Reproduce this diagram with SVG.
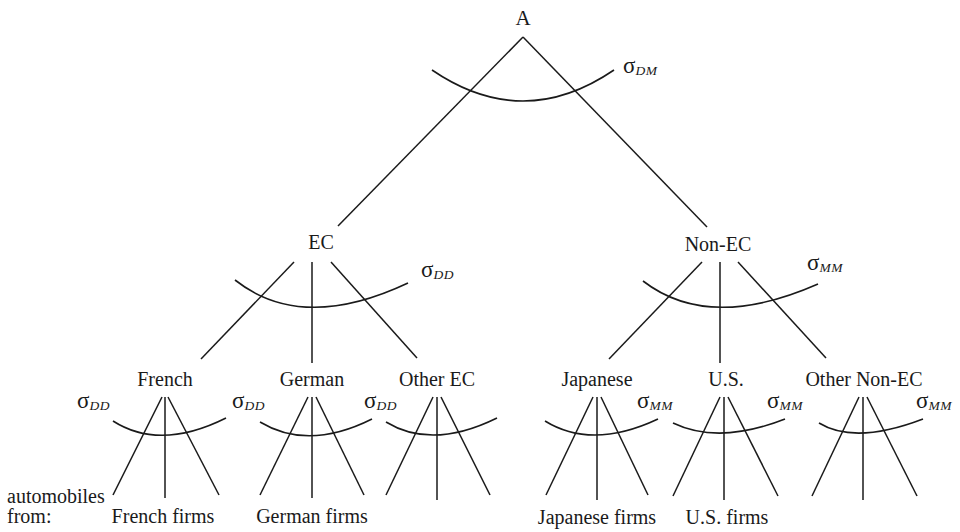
<svg xmlns="http://www.w3.org/2000/svg" width="960" height="532" viewBox="0 0 960 532">
<style>
.lbl{font-family:"Liberation Serif","Times New Roman",serif;font-size:20px;fill:#1a1a1a;text-anchor:middle}
.lft{font-family:"Liberation Serif","Times New Roman",serif;font-size:20px;fill:#1a1a1a}
.sig{font-family:"Liberation Serif","Times New Roman",serif;font-size:23px;fill:#1a1a1a}
.sub{font-size:13.5px;font-style:italic;letter-spacing:0.6px}
.ln{stroke:#1a1a1a;stroke-width:1.5;fill:none}
.arc{stroke:#1a1a1a;stroke-width:1.6;fill:none}
</style>
<rect width="960" height="532" fill="#ffffff"/>
<g id="connectors">
<line class="ln" x1="523" y1="37" x2="338" y2="226"/>
<line class="ln" x1="523" y1="37" x2="707" y2="227"/>
<line class="ln" x1="294" y1="262" x2="201" y2="359"/>
<line class="ln" x1="312" y1="262" x2="312" y2="363"/>
<line class="ln" x1="331" y1="262" x2="417" y2="358"/>
<line class="ln" x1="702" y1="262" x2="609" y2="359"/>
<line class="ln" x1="720" y1="262" x2="720" y2="363"/>
<line class="ln" x1="738" y1="262" x2="826" y2="358"/>
<line class="ln" x1="162" y1="397" x2="113" y2="495"/>
<line class="ln" x1="165" y1="397" x2="165" y2="498"/>
<line class="ln" x1="168" y1="397" x2="219" y2="495"/>
<line class="ln" x1="308" y1="397" x2="260" y2="495"/>
<line class="ln" x1="312" y1="397" x2="312" y2="498"/>
<line class="ln" x1="316" y1="397" x2="364" y2="495"/>
<line class="ln" x1="433" y1="397" x2="386" y2="495"/>
<line class="ln" x1="437" y1="397" x2="437" y2="500"/>
<line class="ln" x1="441" y1="397" x2="490" y2="495"/>
<line class="ln" x1="593" y1="397" x2="546" y2="495"/>
<line class="ln" x1="597" y1="397" x2="597" y2="500"/>
<line class="ln" x1="601" y1="397" x2="648" y2="495"/>
<line class="ln" x1="720" y1="397" x2="673" y2="496"/>
<line class="ln" x1="724" y1="397" x2="724" y2="500"/>
<line class="ln" x1="728" y1="397" x2="778" y2="496"/>
<line class="ln" x1="859" y1="397" x2="812" y2="496"/>
<line class="ln" x1="863" y1="397" x2="863" y2="500"/>
<line class="ln" x1="867" y1="397" x2="917" y2="496"/>
</g>
<g id="node-A">
<text class="lbl" x="523" y="25" style="font-size:21px">A</text>
<path class="arc" d="M432,70 Q523,132 614,70"/>
<text class="sig" x="623" y="73">σ<tspan class="sub" dy="2">DM</tspan></text>
</g>
<g id="node-EC">
<text class="lbl" x="321" y="249">EC</text>
<path class="arc" d="M235,280 Q302,333 408,283"/>
<text class="sig" x="421" y="277">σ<tspan class="sub" dy="2">DD</tspan></text>
</g>
<g id="node-NonEC">
<text class="lbl" x="718" y="251">Non-EC</text>
<path class="arc" d="M643,281 Q709,332 818,284"/>
<text class="sig" x="807" y="270">σ<tspan class="sub" dy="2">MM</tspan></text>
</g>
<g id="node-French">
<text class="lbl" x="165" y="386">French</text>
<path class="arc" d="M113,421 Q160,451 226,418"/>
<text class="sig" x="77" y="408">σ<tspan class="sub" dy="2">DD</tspan></text>
</g>
<g id="node-German">
<text class="lbl" x="312" y="386">German</text>
<path class="arc" d="M260,422 Q308,451 372,419"/>
<text class="sig" x="232" y="408">σ<tspan class="sub" dy="2">DD</tspan></text>
</g>
<g id="node-OtherEC">
<text class="lbl" x="437" y="386">Other EC</text>
<path class="arc" d="M386,422 Q432,450 497,418"/>
<text class="sig" x="364" y="408">σ<tspan class="sub" dy="2">DD</tspan></text>
</g>
<g id="node-Japanese">
<text class="lbl" x="597" y="386">Japanese</text>
<path class="arc" d="M545,421 Q592,450 658,419"/>
<text class="sig" x="637" y="408">σ<tspan class="sub" dy="2">MM</tspan></text>
</g>
<g id="node-US">
<text class="lbl" x="726" y="386">U.S.</text>
<path class="arc" d="M673,423 Q719,445 785,419"/>
<text class="sig" x="767" y="408">σ<tspan class="sub" dy="2">MM</tspan></text>
</g>
<g id="node-OtherNonEC">
<text class="lbl" x="864" y="386">Other Non-EC</text>
<path class="arc" d="M819,423 Q855,445 923,419"/>
<text class="sig" x="916" y="408">σ<tspan class="sub" dy="2">MM</tspan></text>
</g>
<g id="caption">
<text class="lft" x="7" y="503">automobiles</text>
<text class="lft" x="7" y="523">from:</text>
</g>
<g id="leaf-French-firms"><text class="lbl" x="163" y="523">French firms</text></g>
<g id="leaf-German-firms"><text class="lbl" x="312" y="523">German firms</text></g>
<g id="leaf-Japanese-firms"><text class="lbl" x="597" y="524">Japanese firms</text></g>
<g id="leaf-US-firms"><text class="lbl" x="727" y="524">U.S. firms</text></g>
</svg>
